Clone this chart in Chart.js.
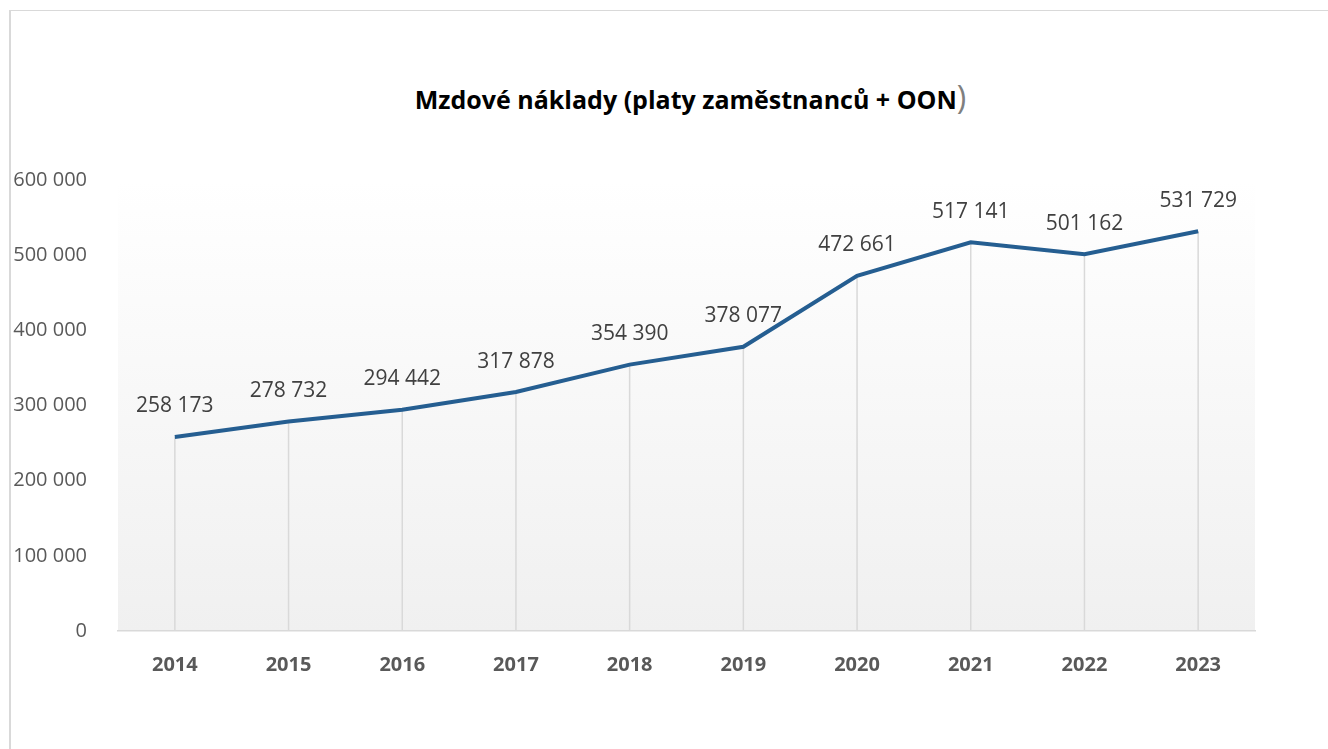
<!DOCTYPE html>
<html lang="cs">
<head>
<meta charset="utf-8">
<script src="https://cdn.jsdelivr.net/npm/chart.js@4/dist/chart.umd.min.js"></script>
<style>
  body { margin: 0; background: #fff; overflow: hidden; }
  #ramecek {
    position: absolute; left: 9px; top: 10px; width: 1330px; height: 760px;
    border: 1px solid #d9d9d9; border-left-width: 2px; box-sizing: border-box;
  }
  #nadpis {
    position: absolute; left: 118px; width: 1145px; top: 79px;
    text-align: center; font: bold 25px "Open Sans", sans-serif; color: #000;
    line-height: 36px;
  }
  #nadpis span { color: #7f7f7f; font-weight: normal; font-size: 32px; }
  #grafico { position: absolute; left: 0; top: 0; }
</style>
</head>
<body>
<div id="ramecek"></div>
<div id="nadpis">Mzdové náklady (platy zaměstnanců + OON<span>)</span></div>
<canvas id="grafico" width="1328" height="749"></canvas>
<script>
const roky = ['2014', '2015', '2016', '2017', '2018', '2019', '2020', '2021', '2022', '2023']
const mzdoveNaklady = [258173, 278732, 294442, 317878, 354390, 378077, 472661, 517141, 501162, 531729]
const osaMin = 0
const osaMax = 600000
const osaKrok = 100000

const formatCisla = (v) => String(v).replace(/\B(?=(\d{3})+(?!\d))/g, ' ')

// pozadi plochy grafu s prechodem
const pozadiPlochy = {
    id: 'pozadiPlochy',
    beforeDraw(chart) {
        const { ctx, chartArea } = chart
        const g = ctx.createLinearGradient(0, chartArea.top, 0, chartArea.bottom)
        g.addColorStop(0, '#ffffff')
        g.addColorStop(1, '#f0f0f0')
        ctx.save()
        ctx.fillStyle = g
        ctx.fillRect(chartArea.left, chartArea.top, chartArea.right - chartArea.left, chartArea.bottom - chartArea.top)
        ctx.restore()
    }
}

// svisle spojnice od bodu k ose
const spojnice = {
    id: 'spojnice',
    beforeDatasetsDraw(chart) {
        const { ctx, scales } = chart
        ctx.save()
        ctx.strokeStyle = '#d9d9d9'
        ctx.lineWidth = 1.5
        mzdoveNaklady.forEach((v, i) => {
            const x = scales.x.getPixelForValue(i)
            ctx.beginPath()
            ctx.moveTo(x, scales.y.getPixelForValue(v))
            ctx.lineTo(x, scales.y.getPixelForValue(0))
            ctx.stroke()
        })
        ctx.restore()
    }
}

// popisky hodnot nad body
const popisky = {
    id: 'popisky',
    afterDatasetsDraw(chart) {
        const { ctx } = chart
        const meta = chart.getDatasetMeta(0)
        ctx.save()
        ctx.font = '21px "Open Sans", sans-serif'
        ctx.fillStyle = '#404040'
        ctx.textAlign = 'center'
        ctx.textBaseline = 'bottom'
        meta.data.forEach((bod, i) => {
            ctx.fillText(formatCisla(mzdoveNaklady[i]), bod.x, bod.y - 20)
        })
        ctx.restore()
    }
}

const config = {
    type: 'line',
    data: {
        labels: roky,
        datasets: [{
            label: 'Mzdové náklady',
            data: mzdoveNaklady,
            borderColor: '#255e91',
            borderWidth: 4,
            pointRadius: 0,
            tension: 0,
            fill: false
        }]
    },
    options: {
        responsive: false,
        animation: false,
        layout: { padding: { left: 10, right: 73, top: 180, bottom: 58 } },
        plugins: { legend: { display: false }, tooltip: { enabled: false }, title: { display: false } },
        scales: {
            x: {
                offset: true,
                grid: { display: false },
                border: { color: '#d9d9d9', width: 1.5 },
                ticks: { color: '#595959', padding: 14, font: { family: 'Open Sans', size: 20, weight: 'bold' } },
                afterFit(s) { s.height = 60 }
            },
            y: {
                min: osaMin,
                max: osaMax,
                grid: { display: false },
                border: { display: false },
                ticks: {
                    stepSize: osaKrok,
                    color: '#595959',
                    padding: 23,
                    font: { family: 'Open Sans', size: 20 },
                    callback: (v) => formatCisla(v)
                },
                afterFit(s) { s.width = 108 }
            }
        }
    },
    plugins: [pozadiPlochy, spojnice, popisky]
}

new Chart(document.querySelector('#grafico'), config)
</script>
</body>
</html>
